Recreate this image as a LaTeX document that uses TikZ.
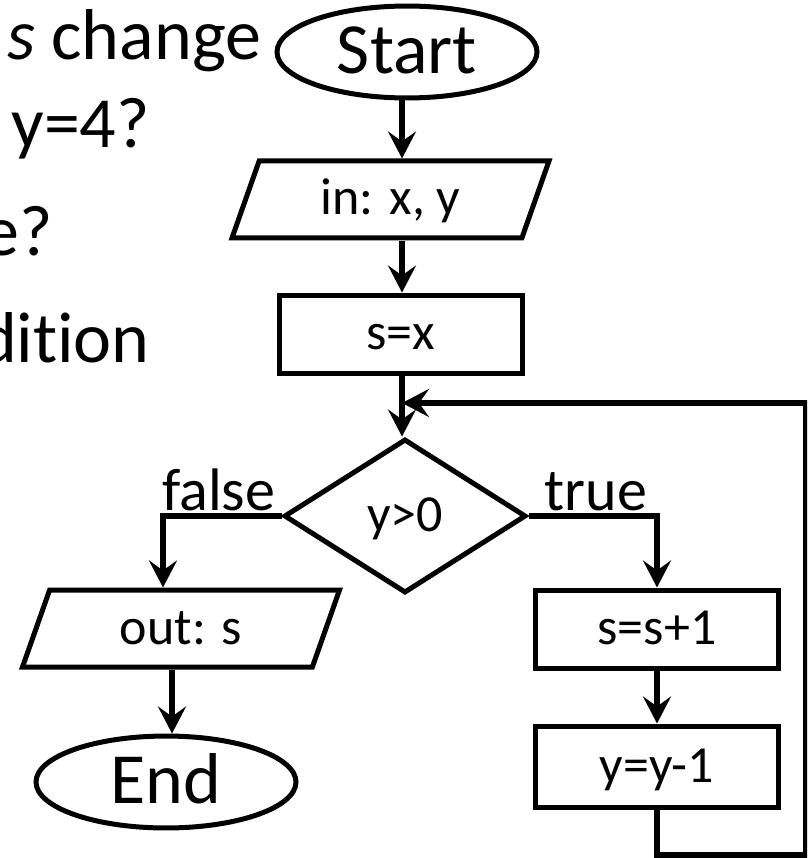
\documentclass[tikz,border=0pt]{standalone}
\usepackage{fontspec}
\setmainfont{Carlito}[Ligatures=NoCommon]
\usetikzlibrary{shapes.geometric,arrows.meta,positioning,calc}
\newcommand{\bigsize}{\fontsize{72}{80}\selectfont}
\newcommand{\lblsize}{\fontsize{60}{66}\selectfont}
\newcommand{\boxsize}{\fontsize{52}{58}\selectfont}
\tikzset{
    flowsty/.style={draw,line width=5pt,inner sep=0pt,align=center},
    termsty/.style={flowsty,ellipse,minimum width=260pt,minimum height=89pt,font=\bigsize,text height=54pt,text depth=11pt},
    iosty/.style={flowsty,trapezium,trapezium left angle=60,trapezium right angle=120,trapezium stretches body,minimum width=317pt,minimum height=77pt,font=\boxsize,text height=39pt,text depth=8pt},
    procsty/.style={flowsty,rectangle,minimum width=243pt,minimum height=78pt,font=\boxsize,text height=39pt,text depth=8pt},
    decsty/.style={flowsty,diamond,minimum width=242pt,minimum height=154pt,font=\boxsize,text height=39pt,text depth=8pt},
    lblsty/.style={inner sep=0pt,font=\lblsize},
    textsty/.style={inner sep=0pt,font=\bigsize},
    arrsty/.style={line width=5.5pt,-{Stealth[length=27pt,width=28pt,inset=10pt]}},
}
\begin{document}
\begin{tikzpicture}[x=1pt,y=-1pt]
\useasboundingbox (0,0) rectangle (807,858);
\clip (0,0) rectangle (807,858);

% question text, cut off at the left edge
\node[textsty,anchor=base west] (q1) at (7,60) {{\itshape s} change};
\node[textsty,anchor=base east] (q2) at (150,148) {y=4?};
\node[textsty,anchor=base east] (q3) at (53,255) {e?};
\node[textsty,anchor=base east] (q4) at (150,362) {dition};

% flow chart
\coordinate (axis) at (402,0);
\node[termsty] (start) at (407,52) {Start};
\node[iosty] (in) at (390.5,199.5) {in: x, y};
\node[procsty] (sx) at (400.5,334) {s=x};
\node[decsty] (cond) at (405,516) {y>0};
\node[iosty] (out) at (181,628.5) {out: s};
\node[termsty] (end) at (166,782) {End};
\node[procsty] (inc) at (657,629) {s=s+1};
\node[procsty,minimum height=81pt] (dec) at (657,766.5) {y=y-1};

\node[lblsty,anchor=base east] (flbl) at ([xshift=-6pt,yshift=6pt]cond.west) {false};
\node[lblsty,anchor=base west] (tlbl) at ([xshift=16pt,yshift=6pt]cond.east) {true};

\coordinate (endx) at ([xshift=6pt]end.north);
\coordinate (merge) at (402,403);
\coordinate (loop) at (805.5,855);

\draw[arrsty] (axis |- start.south) -- (axis |- in.north);
\draw[arrsty] (axis |- in.south) -- (axis |- sx.north);
\draw[arrsty] (axis |- sx.south) -- (axis |- cond.north);
\draw[arrsty] (cond.west) -| ([xshift=-18pt]out.north);
\draw[arrsty] (cond.east) -| (inc.north);
\draw[arrsty] (endx |- out.south) -- (endx);
\draw[arrsty] (inc) -- (dec);
\draw[arrsty] (dec.south) |- (loop) |- (merge);
\end{tikzpicture}
\end{document}
